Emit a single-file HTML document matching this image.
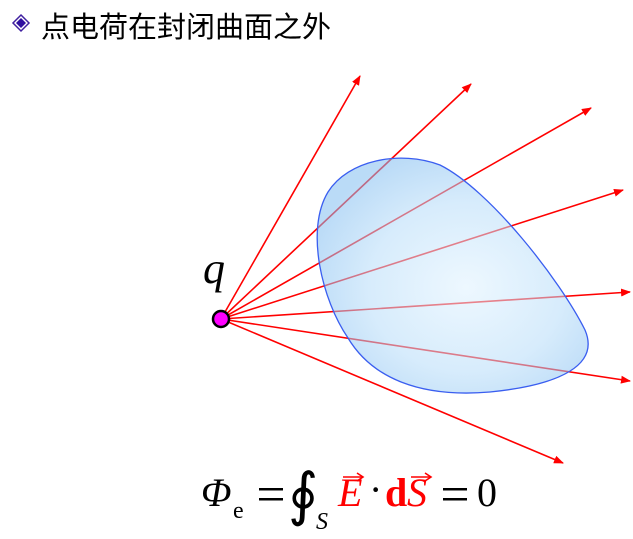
<!DOCTYPE html>
<html><head><meta charset="utf-8"><style>
html,body{margin:0;padding:0;background:#fff;width:633px;height:539px;overflow:hidden}
</style></head><body>
<svg id="fig" width="633" height="539" viewBox="0 0 633 539" xmlns="http://www.w3.org/2000/svg">
<defs>
<radialGradient id="g" cx="0.55" cy="0.55" r="0.6">
<stop offset="0" stop-color="#dff2ff"/><stop offset="0.6" stop-color="#b6dcf9"/><stop offset="1" stop-color="#82bdf0"/>
</radialGradient>
<marker id="ah" markerWidth="10" markerHeight="8" refX="9" refY="4" orient="auto" markerUnits="userSpaceOnUse">
<path d="M0,0 L10,4 L0,8 Z" fill="#ff0000"/></marker>
</defs>
<g>
<path d="M21,15 L29,23 L21,31 L13,23 Z" fill="#fff" stroke="#4020a0" stroke-width="1.5"/>
<path d="M21,18 L26,23 L21,28 L16,23 Z" fill="#3010a0"/>
</g>
<text x="41" y="37" font-size="29" font-family="'Liberation Sans','Noto Sans CJK SC',sans-serif" fill="#000">点电荷在封闭曲面之外</text>
<g id="rays"></g>
<path d="M328,192 C348,160 400,150 440,165 C490,190 560,280 585,330 C600,365 560,385 490,392 C420,398 372,378 348,338 C322,300 305,230 328,192 Z" fill="url(#g)" fill-opacity="0.55" stroke="#3a5ef0" stroke-width="1.3"/>
<text x="203" y="283" font-size="44" font-style="italic" font-family="'Liberation Serif',serif">q</text>
<circle cx="221" cy="319" r="8" fill="#ff00ff" stroke="#000" stroke-width="2.5"/>
<g font-family="'Liberation Serif',serif" font-size="40">
<text x="201" y="506" font-style="italic">Φ</text>
<text x="233" y="518" font-size="24">e</text>
<rect x="259" y="488" width="24" height="2.5"/><rect x="259" y="498" width="24" height="2.5"/>
<text x="288" y="514" font-size="58">∮</text>
<text x="316" y="529" font-size="24" font-style="italic">S</text>
<text x="338" y="506" font-style="italic" fill="#ff0000">E</text>
<path d="M343,477 L362,477" stroke="#ff0000" stroke-width="1.6"/><path d="M357,473 L363,477 L357,481" stroke="#ff0000" fill="none" stroke-width="1.6"/>
<text x="369" y="503">·</text>
<text x="385" y="506" font-weight="bold" fill="#ff0000">d</text>
<text x="407" y="506" font-style="italic" fill="#ff0000">S</text>
<path d="M411,477 L430,477" stroke="#ff0000" stroke-width="1.6"/><path d="M425,473 L431,477 L425,481" stroke="#ff0000" fill="none" stroke-width="1.6"/>
<rect x="443" y="488" width="24" height="2.5"/><rect x="443" y="498" width="24" height="2.5"/>
<text x="477" y="506">0</text>
</g>
</svg>
<script>
const rayEndX = [360, 471, 591, 623, 630, 630, 563];
const rayEndY = [76, 84, 108, 190, 292, 381, 463];
const originX = 221, originY = 319;
const g = document.getElementById('rays');
for (let i = 0; i < rayEndX.length; i++) {
  const l = document.createElementNS('http://www.w3.org/2000/svg', 'line');
  
  
  l.setAttribute('x1', originX); l.setAttribute('y1', originY);
  l.setAttribute('x2', rayEndX[i]); l.setAttribute('y2', rayEndY[i]);
  l.setAttribute('stroke', '#ff0000'); l.setAttribute('stroke-width', '1.6');
  l.setAttribute('marker-end', 'url(#ah)');
  g.appendChild(l);
}
</script>
</body></html>
